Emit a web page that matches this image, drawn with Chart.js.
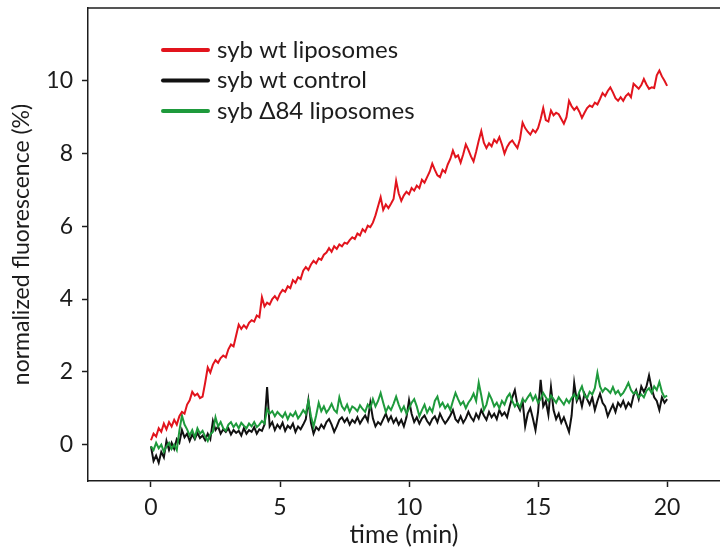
<!DOCTYPE html>
<html>
<head>
<meta charset="utf-8">
<title>Liposome fusion</title>
<script src="https://cdn.jsdelivr.net/npm/chart.js@4"></script>
<style>
  html, body { margin: 0; padding: 0; background: #fff; }
  #wrap { width: 720px; height: 550px; position: relative; }
</style>
</head>
<body>
<div id="wrap"><canvas id="chart"></canvas></div>
<script>
// series names
const seriesLabels = ['syb wt liposomes', 'syb wt control', 'syb \u039484 liposomes'];

const sampleStep = 0.1;

const wtLiposomes = [
  0.12, 0.30, 0.22, 0.45, 0.35, 0.58, 0.42, 0.62, 0.50, 0.68,
  0.55, 0.78, 0.90, 0.85, 1.10, 1.22, 1.45, 1.35, 1.40, 1.28,
  1.32, 1.70, 2.12, 1.98, 2.20, 2.32, 2.25, 2.38, 2.45, 2.40,
  2.62, 2.75, 2.70, 3.00, 3.30, 3.18, 3.28, 3.20, 3.35, 3.42,
  3.38, 3.55, 3.50, 4.05, 3.80, 3.90, 3.85, 4.00, 4.08, 3.98,
  4.15, 4.25, 4.20, 4.35, 4.30, 4.52, 4.45, 4.60, 4.55, 4.78,
  4.88, 4.80, 4.95, 5.05, 4.98, 5.12, 5.08, 5.22, 5.28, 5.40,
  5.30, 5.45, 5.38, 5.50, 5.45, 5.55, 5.52, 5.62, 5.70, 5.65,
  5.80, 5.75, 5.92, 5.85, 6.02, 5.98, 6.10, 6.30, 6.55, 6.80,
  6.45, 6.60, 6.50, 6.62, 6.75, 7.25, 6.90, 6.70, 6.85, 6.95,
  6.88, 7.05, 6.98, 7.12, 7.05, 7.28, 7.20, 7.35, 7.50, 7.72,
  7.55, 7.40, 7.35, 7.55, 7.48, 7.70, 7.85, 8.08, 7.90, 7.95,
  7.75, 7.98, 8.25, 8.10, 7.92, 7.78, 8.05, 8.35, 8.62, 8.30,
  8.15, 8.28, 8.20, 8.38, 8.30, 8.45, 8.25, 8.00, 8.18, 8.30,
  8.36, 8.25, 8.15, 8.40, 8.85, 8.70, 8.60, 8.52, 8.65, 8.58,
  8.70, 8.95, 9.25, 8.92, 8.88, 9.18, 9.05, 9.12, 9.08, 8.95,
  8.82, 9.00, 9.45, 9.30, 9.20, 9.28, 9.15, 8.98, 9.12, 9.25,
  9.32, 9.28, 9.40, 9.35, 9.50, 9.66, 9.58, 9.72, 9.82, 9.68,
  9.52, 9.45, 9.55, 9.45, 9.58, 9.65, 9.55, 9.92, 9.85, 9.78,
  9.88, 10.05, 9.90, 9.78, 9.82, 9.80, 10.15, 10.28, 10.12, 10.00,
  9.86
];

const wtControl = [
  -0.05, -0.45, -0.30, -0.50, -0.20, -0.35, 0.10, -0.15, 0.05, -0.12,
  0.15, 0.05, 0.40, 0.20, 0.30, 0.10, 0.28, 0.15, 0.32, 0.18,
  0.25, 0.12, 0.30, 0.15, 0.65, 0.40, 0.50, 0.30, 0.42, 0.35,
  0.45, 0.28, 0.40, 0.32, 0.38, 0.25, 0.45, 0.30, 0.40, 0.35,
  0.48, 0.30, 0.42, 0.38, 0.55, 1.58, 0.50, 0.62, 0.40, 0.55,
  0.45, 0.60, 0.38, 0.52, 0.45, 0.58, 0.35, 0.50, 0.42, 0.55,
  0.70, 1.22, 0.60, 0.30, 0.48, 0.40, 0.55, 0.45, 0.62, 0.70,
  0.55, 0.35, 0.50, 0.68, 0.75, 0.62, 0.72, 0.55, 0.68, 0.60,
  0.75, 0.58, 0.70, 0.80, 0.65, 1.15, 0.72, 0.50, 0.62, 0.55,
  0.70, 0.85, 0.65, 0.78, 0.60, 0.72, 0.55, 0.68, 0.50, 0.75,
  1.22, 0.85, 0.62, 0.75, 0.58, 0.72, 0.80, 0.65, 0.55, 0.70,
  0.78, 0.62, 0.85, 0.70, 0.58, 0.68, 0.80, 0.95, 0.70, 0.62,
  0.78, 0.60, 0.72, 0.90, 0.75, 0.65, 0.85, 0.72, 0.95, 0.80,
  0.68, 0.90, 0.75, 0.85, 0.70, 0.95, 0.80, 0.88, 0.75, 1.05,
  1.30, 1.50, 1.10, 0.95, 1.20, 0.50, 0.85, 1.00, 0.72, 0.40,
  0.90, 1.78, 1.05, 1.20, 0.82, 1.58, 0.95, 0.70, 0.85, 0.60,
  0.75, 0.55, 0.35, 0.80, 1.70, 1.20, 1.35, 1.05, 1.40, 1.25,
  1.10, 1.30, 0.95, 1.20, 1.40, 1.15, 1.05, 0.78, 0.95, 1.10,
  0.90, 1.15, 1.05, 1.20, 1.00, 1.15, 1.05, 1.35, 1.50, 1.25,
  1.60, 1.45, 1.60, 1.90, 1.55, 1.30, 1.20, 0.95, 1.30, 1.15,
  1.25
];

const d84Liposomes = [
  -0.05, -0.15, 0.05, -0.10, 0.00, -0.20, -0.05, 0.05, -0.12, 0.00,
  -0.15, 0.38, 0.80, 0.55, 0.42, 0.25, 0.40, 0.20, 0.45, 0.30,
  0.38, 0.22, 0.10, 0.28, 0.35, 0.75, 0.50, 0.62, 0.45, 0.38,
  0.55, 0.62, 0.48, 0.58, 0.45, 0.60, 0.52, 0.45, 0.58, 0.50,
  0.62, 0.48, 0.55, 0.65, 0.58, 0.98, 0.85, 0.92, 0.78, 0.90,
  0.82, 0.75, 0.88, 0.70, 0.85, 0.78, 0.90, 0.72, 0.82, 0.95,
  0.85, 1.20, 0.78, 0.50, 0.80, 1.15, 0.92, 1.05, 0.88, 0.98,
  1.12, 0.95, 0.88, 1.30, 1.05, 0.95, 1.10, 0.90, 1.05, 1.00,
  0.92, 1.08, 0.98, 0.90, 1.10, 1.00, 1.25, 1.05, 1.20, 1.42,
  1.15, 0.90, 1.05, 0.95, 1.12, 1.32, 1.10, 0.92, 1.05, 0.85,
  1.00, 1.15, 1.25, 1.05, 0.78, 0.95, 1.10, 0.88, 1.02, 0.90,
  1.20, 1.32, 1.05, 1.15, 1.00, 1.10, 0.95, 1.20, 1.42, 1.25,
  1.10, 1.18, 1.00, 1.15, 1.25, 1.40, 1.20, 1.70, 1.35, 0.95,
  1.10, 1.40, 1.25, 1.05, 1.15, 1.00, 1.20, 1.10, 1.30, 1.40,
  1.20, 1.05, 1.15, 1.02, 1.25, 1.18, 1.30, 1.40, 1.22, 1.35,
  1.15, 1.25, 1.42, 1.30, 1.20, 1.35, 1.25, 1.15, 1.30, 1.20,
  1.10, 1.25, 1.15, 1.28, 1.38, 1.25, 1.45, 1.60, 1.35, 1.28,
  1.45, 1.38, 1.55, 1.97, 1.60, 1.45, 1.55, 1.50, 1.42, 1.58,
  1.40, 1.48, 1.35, 1.42, 1.55, 1.70, 1.50, 1.40, 1.45, 1.30,
  1.38, 1.30, 1.48, 1.55, 1.42, 1.60, 1.50, 1.72, 1.45, 1.30,
  1.35
];

// axis ticks
const xTickValues = [0, 5, 10, 15, 20];
const yTickValues = [0, 2, 4, 6, 8, 10];

const seriesColors = ['#e2141d', '#111111', '#1e9a3c'];
const seriesValues = [wtLiposomes, wtControl, d84Liposomes];
const drawOrder = [0, 2, 1]; // green over black

const FONT = 'Lato, "Open Sans", sans-serif';
const INK = '#1c1c1c';

function toPoints(values) {
  return values.map((v, i) => ({ x: +(i * sampleStep).toFixed(1), y: v }));
}

// no label overhang padding, the plot box is fixed
function noOverhang(scale) {
  scale.paddingTop = 0;
  scale.paddingBottom = 0;
  scale.paddingLeft = 0;
  scale.paddingRight = 0;
}

// top frame line
const frameTop = {
  id: 'frameTop',
  afterDraw(chart) {
    const { ctx, chartArea } = chart;
    ctx.save();
    ctx.strokeStyle = INK;
    ctx.lineWidth = 1.5;
    ctx.beginPath();
    ctx.moveTo(chartArea.left, chartArea.top);
    ctx.lineTo(chart.width, chartArea.top);
    ctx.stroke();
    ctx.restore();
  }
};

// legend inside the plot, top-left
const insideLegend = {
  id: 'insideLegend',
  afterDraw(chart) {
    const { ctx, chartArea } = chart;
    const x0 = chartArea.left + 75;
    const y0 = chartArea.top + 42;
    ctx.save();
    ctx.font = '24px ' + FONT;
    ctx.textBaseline = 'middle';
    chart.data.datasets.forEach((ds, i) => {
      const y = y0 + i * 30.5;
      ctx.strokeStyle = ds.borderColor;
      ctx.lineWidth = 4;
      ctx.lineCap = 'round';
      ctx.beginPath();
      ctx.moveTo(x0, y);
      ctx.lineTo(x0 + 45, y);
      ctx.stroke();
      ctx.fillStyle = INK;
      ctx.fillText(ds.label, x0 + 54, y);
    });
    ctx.restore();
  }
};

new Chart(document.getElementById('chart'), {
  type: 'line',
  data: {
    datasets: seriesLabels.map((label, i) => ({
      label: label,
      data: toPoints(seriesValues[i]),
      borderColor: seriesColors[i],
      backgroundColor: seriesColors[i],
      borderWidth: 2,
      pointRadius: 0,
      tension: 0,
      order: drawOrder[i]
    }))
  },
  options: {
    responsive: true,
    maintainAspectRatio: false,
    animation: false,
    layout: { padding: { top: 8, right: 0, bottom: 0, left: 0 } },
    plugins: {
      legend: { display: false },
      tooltip: { enabled: false }
    },
    scales: {
      x: {
        type: 'linear',
        min: -2.44,
        max: 22.05,
        afterBuildTicks: (scale) => { scale.ticks = xTickValues.map(v => ({ value: v })); },
        afterFit: (scale) => { scale.height = 69; noOverhang(scale); },
        border: { display: true, color: INK, width: 1.5 },
        grid: { drawOnChartArea: false, drawTicks: true, tickLength: 6, tickColor: INK, tickWidth: 1.5 },
        ticks: { color: INK, padding: 7, font: { family: FONT, size: 23 } },
        title: {
          display: true,
          text: 'time (min)',
          color: INK,
          padding: { top: 0, bottom: 0 },
          font: { family: FONT, size: 25 }
        }
      },
      y: {
        min: -1,
        max: 12,
        afterBuildTicks: (scale) => { scale.ticks = yTickValues.map(v => ({ value: v })); },
        afterFit: (scale) => { scale.width = 88; noOverhang(scale); },
        border: { display: true, color: INK, width: 1.5 },
        grid: { drawOnChartArea: false, drawTicks: true, tickLength: 6, tickColor: INK, tickWidth: 1.5 },
        ticks: { color: INK, padding: 9, font: { family: FONT, size: 23 } },
        title: {
          display: true,
          text: 'normalized fluorescence (%)',
          color: INK,
          padding: { top: 8, bottom: 0 },
          font: { family: FONT, size: 23 }
        }
      }
    }
  },
  plugins: [frameTop, insideLegend]
});
</script>
</body>
</html>
